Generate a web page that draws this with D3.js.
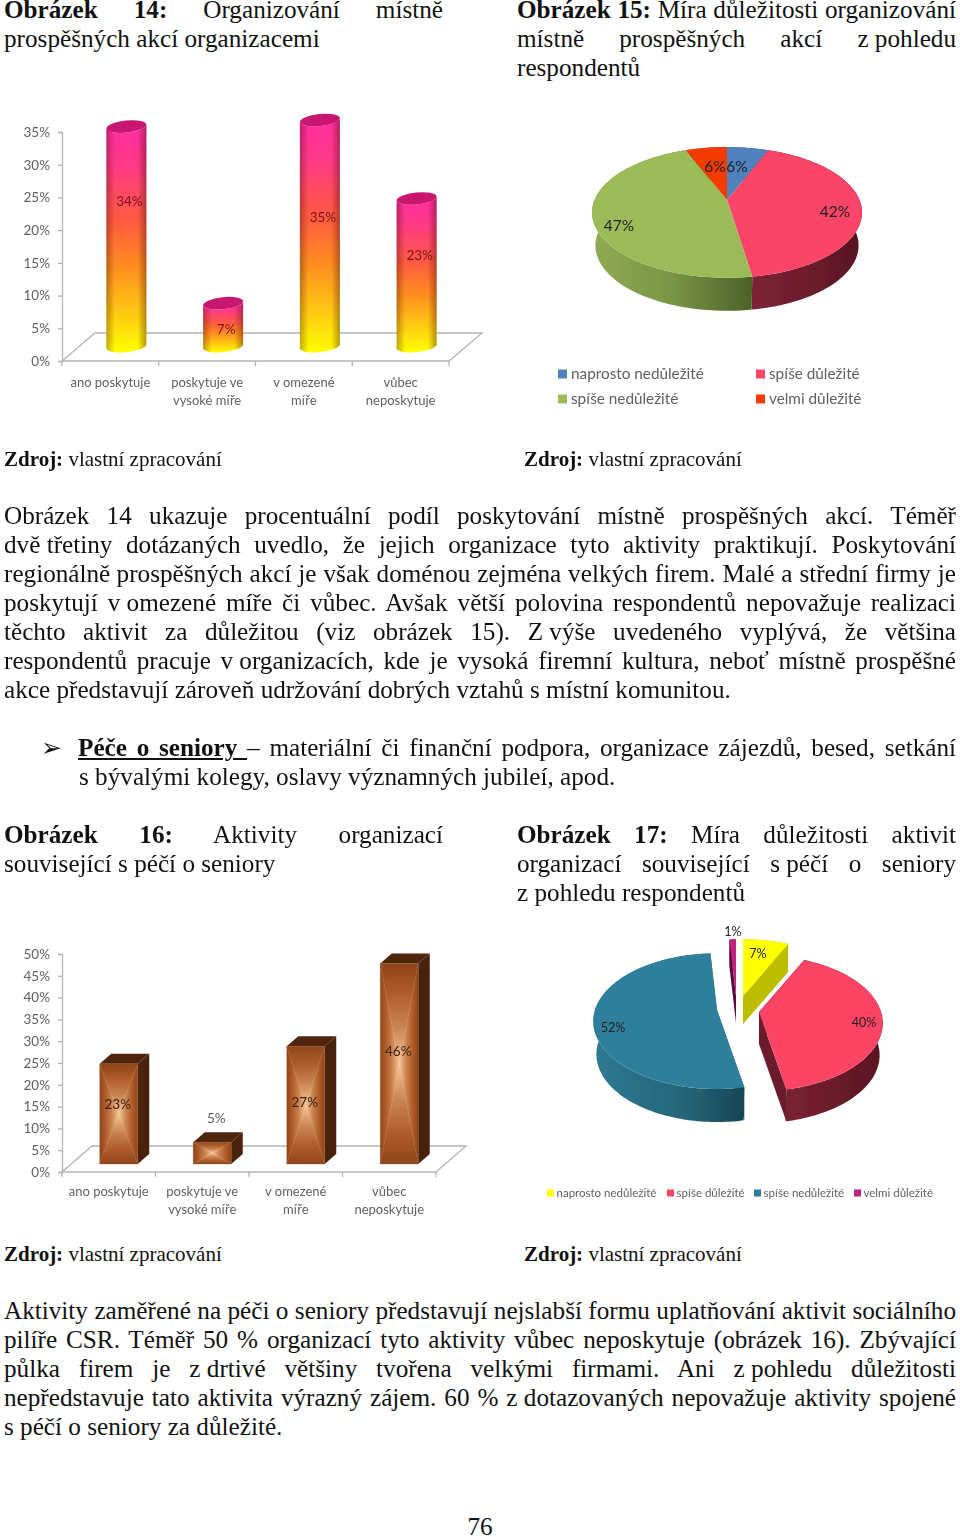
<!DOCTYPE html>
<html><head><meta charset="utf-8">
<script src="https://cdnjs.cloudflare.com/ajax/libs/d3/7.8.5/d3.min.js"></script>
<style>
html,body{margin:0;padding:0;background:#fff;}
#page{position:relative;width:960px;height:1537px;overflow:hidden;font-family:"Liberation Serif",serif;font-size:25.2px;color:#111;}
#charts{position:absolute;left:0;top:0;}
.ln{position:absolute;line-height:29px;height:29px;white-space:nowrap;word-spacing:0;}
.ln.j{text-align:justify;text-align-last:justify;white-space:normal;}
.nb{display:inline-block;text-align-last:left;white-space:nowrap;}
.src{font-size:21px;}
</style></head><body><div id="page"><svg id="charts" width="960" height="1537"></svg></div>
<script>
// ---------- data ----------
const cats14 = [["ano poskytuje"],["poskytuje ve","vysoké míře"],["v omezené","míře"],["vůbec","neposkytuje"]];
const vals14 = [34,7,35,23];
const ticks14 = [0,5,10,15,20,25,30,35];
const cats16 = [["ano poskytuje"],["poskytuje ve","vysoké míře"],["v omezené","míře"],["vůbec","neposkytuje"]];
const vals16 = [23,5,27,46];
const ticks16 = [0,5,10,15,20,25,30,35,40,45,50];
const names15 = ["naprosto nedůležité","spíše důležité","spíše nedůležité","velmi důležité"];
const vals15 = [6,42,47,6];
const cols15 = ["#4F81BD","#FB4568","#9BBB59","#F43A06"];
const names17 = ["naprosto nedůležité","spíše důležité","spíše nedůležité","velmi důležité"];
const vals17 = [7,40,52,1];
const cols17 = ["#FFFF00","#FC4465","#2F7F9B","#C0207F"];

const head14 = ["**Obrázek 14:** Organizování místně","prospěšných akcí organizacemi"];
const head15 = ["**Obrázek 15:** Míra důležitosti organizování","místně prospěšných akcí z~pohledu","respondentů"];
const para1 = [
"Obrázek 14 ukazuje procentuální podíl poskytování místně prospěšných akcí. Téměř",
"dvě~třetiny dotázaných uvedlo, že jejich organizace tyto aktivity praktikují. Poskytování",
"regionálně~prospěšných akcí je však doménou zejména velkých firem. Malé a střední firmy je",
"poskytují v~omezené míře či vůbec. Avšak větší polovina respondentů nepovažuje realizaci",
"těchto aktivit za důležitou (viz obrázek 15). Z~výše uvedeného vyplývá, že většina",
"respondentů pracuje v~organizacích, kde je vysoká firemní kultura, neboť místně prospěšné",
"akce představují zároveň udržování dobrých vztahů s~místní komunitou."];
const bullet = ["**__Péče o seniory __** – materiální či finanční podpora, organizace zájezdů, besed, setkání","s~bývalými kolegy, oslavy významných jubileí, apod."];
const head16 = ["**Obrázek 16:** Aktivity organizací","související s~péčí o seniory"];
const head17 = ["**Obrázek 17:** Míra důležitosti aktivit","organizací související s~péčí o seniory","z~pohledu respondentů"];
const para2 = [
"Aktivity zaměřené na péči o seniory představují nejslabší formu uplatňování aktivit sociálního",
"pilíře CSR. Téměř 50 % organizací tyto aktivity vůbec neposkytuje (obrázek 16). Zbývající",
"půlka firem je z~drtivé většiny tvořena velkými firmami. Ani z~pohledu důležitosti",
"nepředstavuje tato aktivita výrazný zájem. 60 % z~dotazovaných nepovažuje aktivity spojené",
"s~péčí o seniory za důležité."];
const sourceText = "**Zdroj:** vlastní zpracování";
const pageNumber = "76";

// ---------- text ----------
const page = d3.select("#page");
function fmt(s){
  return s.replace(/\S*~\S*/g,m=>'<span class="nb">'+m.replace(/~/g,' ')+'</span>')
   .replace(/\*\*(.+?)\*\*/g,'<b>$1</b>').replace(/__(.+?)__/g,'<u>$1</u>');
}
function block(lines,x,w,y,justifyLast){
  lines.forEach((t,i)=>{
    const j = i<lines.length-1 || justifyLast;
    const top=y+i*29;
    const d=page.append("div").attr("class","ln"+(j?" j":""))
      .style("left",x+"px").style("width",w+"px").html(fmt(t));
    if(top<0){ d.style("top","0px").style("line-height",(29+2*top+1)+"px").style("height",(29+2*top+1)+"px"); }
    else d.style("top",top+"px");
  });
}
block(head14,4,439,-5);
block(head15,517,439,-5);
block(para1,4,952,501);
block([bullet[0]],78,878,733,true);
block([bullet[1]],79,877,762);
block(head16,4,439,820);
block(head17,517,439,820);
block(para2,4,952,1296);
[[4,445],[524,445],[4,1240],[524,1240]].forEach(p=>{
  page.append("div").attr("class","ln src").style("left",p[0]+"px").style("top",p[1]+"px").html(fmt(sourceText));
});
page.append("div").attr("class","ln").style("left","0").style("width","960px").style("text-align","center").style("top","1512px").text(pageNumber);
page.append("div").attr("class","ln").style("left","41px").style("top","733px").style("font-family","'DejaVu Sans'").style("font-size","25px").text("➢");

// ---------- charts ----------
const svg = d3.select("#charts");
const defs = svg.append("defs");
const soft = defs.append("filter").attr("id","soft").attr("x","-5%").attr("y","-5%").attr("width","110%").attr("height","110%");
soft.append("feGaussianBlur").attr("stdDeviation",0.6);
const root = svg.append("g").attr("filter","url(#soft)");
const LBL="Lato, 'Open Sans', sans-serif", GR="#606060";
let gid=0;
function grad(stops,dir,extra){
  const id="g"+(++gid);
  const g=defs.append("linearGradient").attr("id",id);
  if(dir==="v") g.attr("x1",0).attr("x2",0).attr("y1",0).attr("y2",1);
  else if(dir==="vr") g.attr("x1",0).attr("x2",0).attr("y1",1).attr("y2",0);
  else if(dir==="hr") g.attr("x1",1).attr("x2",0).attr("y1",0).attr("y2",0);
  else if(extra) g.attr("gradientUnits","userSpaceOnUse").attr("x1",extra[0]).attr("x2",extra[1]).attr("y1",0).attr("y2",0);
  stops.forEach(s=>g.append("stop").attr("offset",s[0]).attr("stop-color",s[1]).attr("stop-opacity",s[2]===undefined?1:s[2]));
  return "url(#"+id+")";
}
const poly=d3.line();
function frame(g,x,y,ticks,dx,dy,fontSize){
  const c="#b4b4b4";
  const y0=y(0),l=x.range()[0],r=x.range()[1];
  const ax=d3.axisLeft(y).tickValues(ticks).tickFormat(d=>d+"%").tickSize(4).tickPadding(8);
  const a=g.append("g").attr("transform",`translate(${l},0)`).call(ax);
  a.selectAll("line,path").attr("stroke",c).attr("stroke-width",1.3);
  a.selectAll("text").attr("font-family",LBL).attr("font-size",fontSize).attr("fill",GR);
  g.append("path").attr("d",poly([[l,y0],[l+dx,y0-dy],[r+dx,y0-dy],[r,y0],[l,y0]])).attr("fill","none").attr("stroke",c).attr("stroke-width",1.3);
  x.domain().forEach((d,i)=>{
    const xx=l+i*x.step();
    g.append("line").attr("x1",xx).attr("x2",xx).attr("y1",y0).attr("y2",y0+5).attr("stroke",c).attr("stroke-width",1.3);
  });
  g.append("line").attr("x1",r).attr("x2",r).attr("y1",y0).attr("y2",y0+5).attr("stroke",c).attr("stroke-width",1.3);
}
function catLabels(g,x,cats,y1,fontSize){
  cats.forEach((ls,i)=>ls.forEach((t,j)=>{
    g.append("text").attr("x",x(i)+x.bandwidth()/2).attr("y",y1+j*18).attr("text-anchor","middle")
     .attr("font-family",LBL).attr("font-size",fontSize).attr("fill",GR).text(t);
  }));
}
// Fig. 14 – cylinders
(function(){
  const g=root.append("g");
  const x=d3.scaleBand().domain(d3.range(vals14.length)).range([62,449]);
  const y=d3.scaleLinear().domain([0,35]).range([361,132]);
  frame(g,x,y,ticks14,33,28,13.5);
  catLabels(g,x,cats14,387,13);
  const body=grad([[0,"#FF2CA0"],[.18,"#FF3A86"],[.42,"#FF5A40"],[.62,"#FF8C20"],[.85,"#FFD010"],[1,"#FFFF00"]],"v");
  const shade=grad([[0,"#300",.32],[.22,"#300",0],[.78,"#300",0],[1,"#300",.36]],"h");
  const labelAt=[201,329,217,255];
  const liftTop=12, liftBot=14, rx=20, ry=6;
  vals14.forEach((v,i)=>{
    const cx=x(i)+x.bandwidth()/2+16;
    const top=y(v)-liftTop, bot=y(0)-liftBot;
    const d=`M${cx-rx},${top+2}L${cx-rx},${bot}A${rx},${ry} -6 0 0 ${cx+rx},${bot-2}L${cx+rx},${top-2}A${rx},${ry} -6 0 1 ${cx-rx},${top+2}Z`;
    g.append("path").attr("d",d).attr("fill",body);
    g.append("path").attr("d",d).attr("fill",shade);
    g.append("ellipse").attr("cx",cx).attr("cy",top).attr("rx",rx).attr("ry",ry).attr("transform",`rotate(-6 ${cx} ${top})`).attr("fill","#C9156F");
    g.append("text").attr("x",cx+3).attr("y",labelAt[i]+5).attr("text-anchor","middle")
     .attr("font-family",LBL).attr("font-size",13.5).attr("fill","#7a1020").text(v+"%");
  });
})();
// Fig. 16 – boxes
(function(){
  const g=root.append("g");
  const x=d3.scaleBand().domain(d3.range(vals16.length)).range([62,436]);
  const y=d3.scaleLinear().domain([0,50]).range([1172,954]);
  frame(g,x,y,ticks16,30,26,13.5);
  catLabels(g,x,cats16,1196,13);
  const st=[[0,"#8F451A"],[.3,"#B05C2A"],[.62,"#C98250"],[1,"#F5C592"]];
  const gs={l:grad(st,"h"),r:grad(st,"hr"),t:grad(st,"v"),b:grad(st,"vr")};
  const w=38,dx=11.5,dy=10,lift=8;
  const ly=[1104,1118,1102,1051];
  vals16.forEach((v,i)=>{
    const cx=x(i)+x.bandwidth()/2+10, L=cx-w/2,R=cx+w/2,T=y(v)-lift,B=y(0)-lift,mx=cx,my=(T+B)/2;
    const side=[[R,T],[R+dx,T-dy],[R+dx,B-dy],[R,B]], topf=[[L,T],[L+dx,T-dy],[R+dx,T-dy],[R,T]];
    g.append("path").attr("d",poly(side)+"Z").attr("fill","#4A2209");
    g.append("path").attr("d",poly(topf)+"Z").attr("fill","#4F260C");
    [[gs.l,[[L,T],[mx,my],[L,B]]],[gs.r,[[R,T],[mx,my],[R,B]]],[gs.t,[[L,T],[mx,my],[R,T]]],[gs.b,[[L,B],[mx,my],[R,B]]]]
      .forEach(p=>g.append("path").attr("d",poly(p[1])+"Z").attr("fill",p[0]).attr("stroke",p[0]).attr("stroke-width",.3));
    g.append("text").attr("x",cx-1+(i==1?5:0)).attr("y",ly[i]+5).attr("text-anchor","middle")
     .attr("font-family",LBL).attr("font-size",13.5).attr("fill",i==1?GR:"#3a2010").text(v+"%");
  });
})();
// 3-D pies
function pie3(vals,opt){
  const g=root.append("g");
  const arcs=d3.pie().sort(null)(vals);
  const proj=(c,a)=>{const u=Math.sin(a),v=-Math.cos(a),w=1-opt.k*v;return [c[0]+opt.B*u/w,c[1]+opt.A*v/w];};
  const rims=arcs.map((s,i)=>{
    const c=opt.centers[i];
    const n=Math.max(2,Math.ceil((s.endAngle-s.startAngle)*40));
    return d3.range(n+1).map(j=>proj(c,s.startAngle+(s.endAngle-s.startAngle)*j/n));
  });
  if(opt.cut) arcs.forEach((s,i)=>{
    const c=opt.centers[i],D=opt.depths[i],r=rims[i];
    [r[0],r[r.length-1]].forEach(p=>{
      g.append("path").attr("d",poly([c,p,[p[0],p[1]+D],[c[0],c[1]+D]])+"Z").attr("fill",opt.cutCols[i]);
    });
  });
  arcs.forEach((s,i)=>{
    const D=opt.depths[i],r=rims[i],c=opt.centers[i];
    const e=d3.extent(r,p=>p[0]);
    const fill=grad(opt.wall[i],"u",e);
    const shifted=r.map(p=>[c[0]+(p[0]-c[0])*opt.taper,p[1]+D]).reverse();
    g.append("path").attr("d",poly(r.concat(shifted))+"Z").attr("fill",fill);
  });
  arcs.forEach((s,i)=>{
    g.append("path").attr("d",poly([opt.centers[i]].concat(rims[i]))+"Z").attr("fill",opt.cols[i]);
  });
  opt.labels.forEach((p,i)=>g.append("text").attr("x",p[0]).attr("y",p[1]+opt.fs*.36).attr("text-anchor","middle")
     .attr("font-family",LBL).attr("font-size",opt.fs).attr("fill",opt.lc||"#222").text(vals[i]+"%"));
}
pie3(vals15,{A:63,B:132.5,k:.19,taper:.975,centers:vals15.map(()=>[727,200]),depths:[33,33,33,33],cols:cols15,
  wall:[[[0,"#3b618f"],[1,"#3b618f"]],[[0,"#7E2336"],[.6,"#6A1B2B"],[1,"#551421"]],[[0,"#8FAB52"],[.5,"#7A9546"],[1,"#4C6129"]],[[0,"#a02000"],[1,"#a02000"]]],
  labels:[[737,166],[835,211],[619,225],[715,166]],fs:15.5});
pie3(vals17,{A:66,B:122,k:.165,taper:.975,cut:true,centers:[[743,996],[759,1012],[717,1010],[736,996]],depths:[28,32,33,27],cols:cols17,
  cutCols:["#BDBD00","#6B1D2C","#1F5566","#560C3A"],
  wall:[[[0,"#BDBD00"],[1,"#BDBD00"]],[[0,"#7A2233"],[1,"#591522"]],[[0,"#2E7A92"],[.6,"#256578"],[1,"#174655"]],[[0,"#560C3A"],[1,"#560C3A"]]],
  labels:[[758,953],[864,1022],[613,1027],[733,931]],fs:12.5});
// legends
function legend(names,cols,pos,size,fs){
  names.forEach((t,i)=>{
    const p=pos[i];
    root.append("rect").attr("x",p[0]).attr("y",p[1]-size/2).attr("width",size).attr("height",size).attr("fill",cols[i]);
    root.append("text").attr("x",p[0]+size+(size>8?4:2.5)).attr("y",p[1]+fs*.34).attr("font-family",LBL).attr("font-size",fs).attr("fill",GR).text(t);
  });
}
legend(names15,cols15,[[558,374],[756,374],[558,399],[756,399]],9,15.3);
legend(names17,cols17,[[547,1193],[667,1193],[754,1193],[854,1193]],7,11.5);
</script></body></html>
